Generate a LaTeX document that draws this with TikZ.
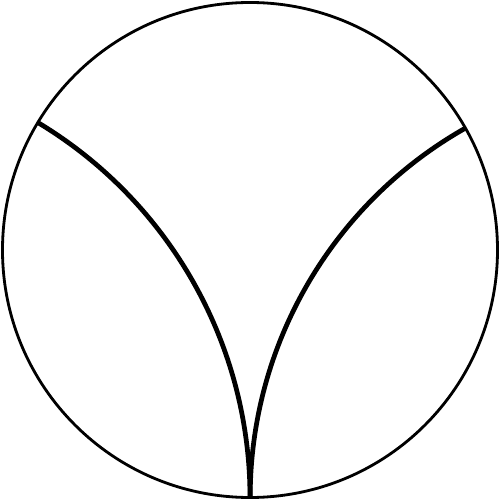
\documentclass[tikz,border=0pt]{standalone}
\begin{document}
\begin{tikzpicture}[x=0.02cm,y=0.02cm,
  rim/.style={draw=black,line width=1.6pt},
  geo/.style={draw=black,line width=2.7pt}]
\useasboundingbox (-250,-250) rectangle (250,250);
\coordinate (O) at (0,0);
\coordinate (L) at (149:247.5);
\coordinate (R) at (29.5:247.5);
\coordinate (B) at (0,-247.5);
\draw[geo] (L) arc[start angle=59,end angle=0,radius=437.5];
\draw[geo] (R) arc[start angle=119.5,end angle=180,radius=424.0];
\draw[rim] (O) circle[radius=247.5];
\end{tikzpicture}
\end{document}
